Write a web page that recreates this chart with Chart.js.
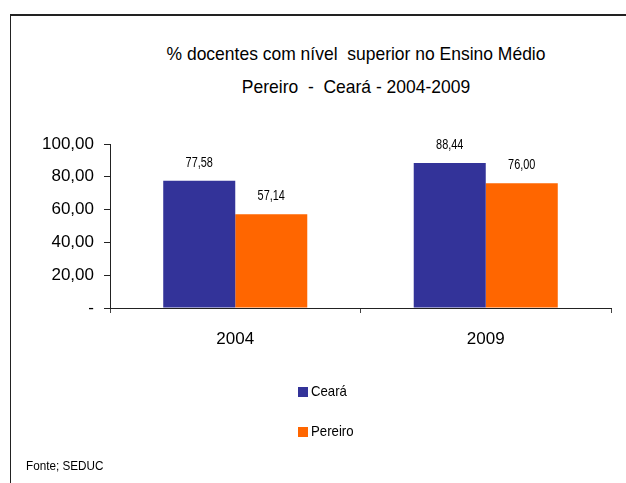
<!DOCTYPE html>
<html lang="pt">
<head>
<meta charset="UTF-8">
<script src="https://cdn.jsdelivr.net/npm/chart.js"></script>
<title>% docentes com nível superior</title>
<style>
    body { margin: 0; background: #fff; }
    .wrap { position: relative; width: 626px; height: 483px; overflow: hidden; font-family: "Liberation Sans", Arial, sans-serif; color: #000; }
    .frame { position: absolute; left: 10px; top: 14px; width: 700px; height: 600px; border-left: 1px solid #222; border-top: 2px solid #222; }
    canvas { position: absolute; left: 0; top: 0; }
    .title { position: absolute; left: 0; width: 712px; text-align: center; font-size: 19px; white-space: pre; transform: scaleX(0.92); transform-origin: 356px 0; }
    .legend { position: absolute; left: 298px; top: 382px; font-size: 15px; }
    .legend div { height: 40px; display: flex; align-items: flex-start; }
    .legend span.box { width: 10px; height: 10px; display: inline-block; margin-top: 5px; margin-right: 3px; }
    .legend span.txt { display: inline-block; transform: scaleX(0.88); transform-origin: 0 0; }
    .fonte { position: absolute; left: 26px; top: 458px; font-size: 13px; transform: scaleX(0.9); transform-origin: 0 0; }
</style>
</head>
<body>
<div class="wrap">
    <div class="frame"></div>
    <div class="title" style="top:43px">% docentes com nível  superior no Ensino Médio</div>
    <div class="title" style="top:76px">Pereiro  -  Ceará - 2004-2009</div>
    <canvas id="chart" width="626" height="483"></canvas>
    <div class="legend" id="legend"></div>
    <div class="fonte">Fonte; SEDUC</div>
</div>

<script>
const anos = ['2004', '2009'];
const ceara = [77.58, 88.44];
const pereiro = [57.14, 76.00];
const yTicks = [0, 20, 40, 60, 80, 100];

const fonte = '"Liberation Sans", Arial, sans-serif';

function fmt(v) {
    return v === 0 ? '-' : v.toFixed(2).replace('.', ',');
}

// rotulos em cima das barras (letra mais estreita, como no original)
const rotulos = {
    id: 'rotulos',
    afterDatasetsDraw(chart) {
        const ctx = chart.ctx;
        chart.data.datasets.forEach((ds, i) => {
            chart.getDatasetMeta(i).data.forEach((bar, j) => {
                ctx.save();
                ctx.translate(bar.x, bar.y - 18);
                ctx.scale(0.78, 1);
                ctx.font = '14px ' + fonte;
                ctx.fillStyle = '#000';
                ctx.textAlign = 'center';
                ctx.textBaseline = 'middle';
                ctx.fillText(fmt(ds.data[j]), 0, 0);
                ctx.restore();
            });
        });
    }
};

const chart = new Chart(document.getElementById('chart'), {
    type: 'bar',
    data: {
        labels: anos,
        datasets: [
            { label: 'Ceará', data: ceara, backgroundColor: '#333399' },
            { label: 'Pereiro', data: pereiro, backgroundColor: '#FF6600' }
        ]
    },
    options: {
        responsive: false,
        animation: false,
        devicePixelRatio: 1,
        layout: { padding: { left: 0, right: 15, top: 144, bottom: 0 } },
        datasets: { bar: { barPercentage: 1, categoryPercentage: 0.575 } },
        plugins: { legend: { display: false }, title: { display: false }, tooltip: { enabled: false } },
        scales: {
            x: {
                afterFit(scale) { scale.height = 175; },
                grid: { drawOnChartArea: false, tickLength: 5, color: '#444', offset: true },
                border: { color: '#222', width: 1 },
                ticks: { color: '#000', padding: 16, font: { family: fonte, size: 17 } }
            },
            y: {
                min: 0, max: 100,
                afterFit(scale) { scale.width = 110; },
                afterBuildTicks(scale) { scale.ticks = yTicks.map(v => ({ value: v })); },
                grid: { drawOnChartArea: false, tickLength: 6, color: '#222' },
                border: { color: '#222', width: 1 },
                ticks: { color: '#000', padding: 10, font: { family: fonte, size: 17 }, callback: v => fmt(v) }
            }
        }
    },
    plugins: [rotulos]
});

const legend = document.getElementById('legend');
chart.data.datasets.forEach(ds => {
    const d = document.createElement('div');
    d.innerHTML = '<span class="box" style="background:' + ds.backgroundColor + '"></span><span class="txt">' + ds.label + '</span>';
    legend.appendChild(d);
});
</script>
</body>
</html>
